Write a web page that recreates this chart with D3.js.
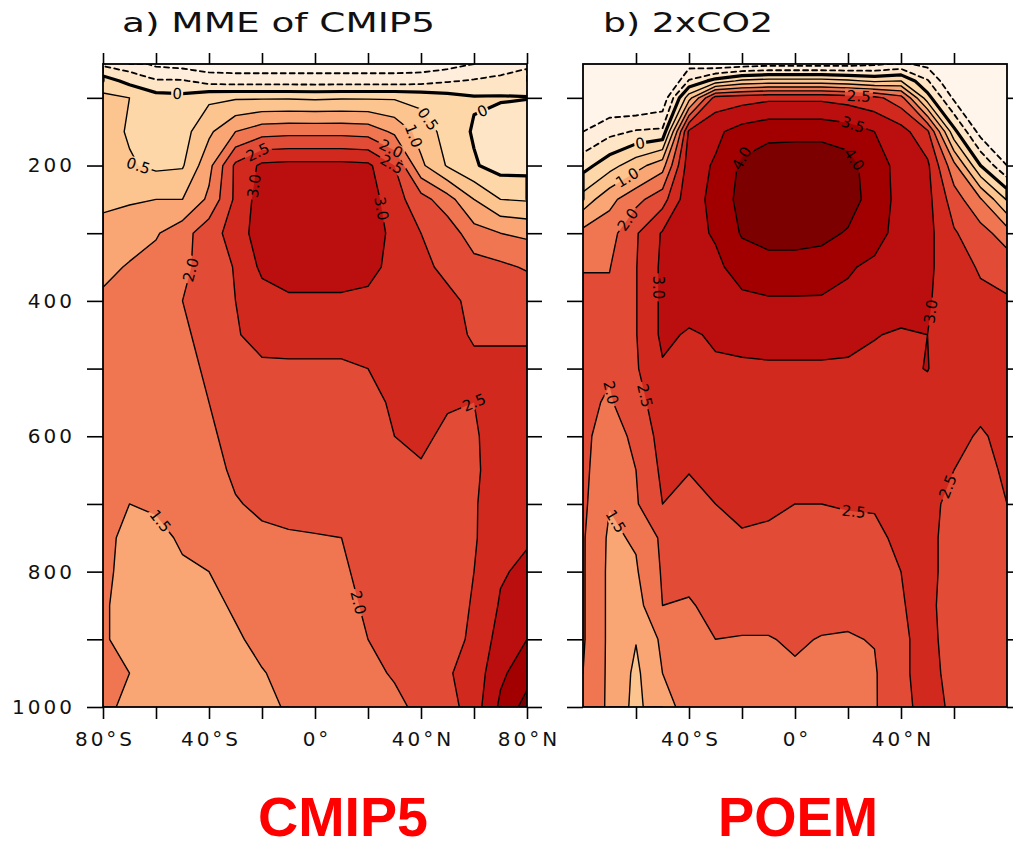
<!DOCTYPE html>
<html>
<head>
<meta charset="utf-8">
<script src="https://cdn.jsdelivr.net/npm/d3@7"></script>
<style>
  body { margin: 0; background: #fff; }
  svg text { font-family: "DejaVu Sans", sans-serif; }
</style>
</head>
<body>
<svg id="chart" width="1013" height="847"></svg>
<script>
// grid: latitude columns and pressure rows (hPa)
const lats = [-80, -70, -60, -50, -40, -30, -20, -10, 0, 10, 20, 30, 40, 50, 60, 70, 80];
const levels = [50, 75, 100, 150, 200, 250, 300, 350, 400, 450, 500, 550, 600, 650, 700, 750, 800, 850, 900, 950, 1000];

// contour levels (K) and the fill of each band (below first, between, above last)
const thresholds = [-1.0, -0.5, 0, 0.5, 1.0, 1.5, 2.0, 2.5, 3.0, 3.5, 4.0];
const bandColors = ["#fff5eb", "#feeedb", "#fee5c6", "#fdd7a7", "#fcc48e", "#f9a674",
  "#f07652", "#e24c36", "#d2291f", "#ba0f0e", "#a20000", "#7d0000"];

// a) MME of CMIP5 -- one row per pressure level, lat -80..80
const cmip5Rows = [
  [-0.6, -0.8, -1.1, -1.2, -1.3, -1.3, -1.3, -1.3, -1.3, -1.3, -1.3, -1.3, -1.3, -1.2, -1.0, -0.8, -0.6],
  [0.25, -0.15, -0.45, -0.45, -0.7, -0.75, -0.75, -0.75, -0.75, -0.75, -0.75, -0.75, -0.7, -0.55, -0.45, -0.35, -0.25],
  [0.6, 0.5, 0.2, 0.15, 0.4, 0.45, 0.45, 0.45, 0.42, 0.45, 0.45, 0.45, 0.35, 0.2, 0.05, 0.05, 0.02],
  [0.7, 0.45, 0.25, 0.3, 0.9, 1.5, 1.8, 1.85, 1.85, 1.85, 1.8, 1.4, 0.8, 0.3, -0.05, -0.3, -0.4],
  [0.6, 0.55, 0.4, 0.45, 1.35, 2.6, 3.1, 3.15, 3.15, 3.15, 3.1, 2.5, 1.1, 0.45, 0.05, -0.2, -0.2],
  [0.9, 0.95, 1.0, 1.0, 1.6, 2.6, 3.25, 3.3, 3.3, 3.3, 3.25, 2.7, 2.2, 1.7, 1.0, 0.5, 0.45],
  [1.15, 1.25, 1.45, 1.8, 2.3, 2.7, 3.3, 3.35, 3.35, 3.35, 3.3, 2.85, 2.5, 2.3, 1.7, 1.5, 1.4],
  [1.35, 1.55, 1.7, 1.95, 2.1, 2.55, 3.1, 3.3, 3.3, 3.3, 3.2, 2.8, 2.6, 2.4, 2.2, 2.1, 1.95],
  [1.6, 1.65, 1.75, 2.0, 2.2, 2.5, 2.8, 2.9, 2.9, 2.9, 2.85, 2.8, 2.7, 2.6, 2.4, 2.4, 2.35],
  [1.65, 1.7, 1.8, 1.95, 2.1, 2.45, 2.7, 2.75, 2.75, 2.75, 2.75, 2.75, 2.7, 2.65, 2.45, 2.45, 2.45],
  [1.7, 1.75, 1.8, 1.9, 2.05, 2.2, 2.4, 2.4, 2.4, 2.4, 2.5, 2.65, 2.75, 2.7, 2.6, 2.6, 2.6],
  [1.75, 1.8, 1.85, 1.9, 2.0, 2.15, 2.25, 2.3, 2.3, 2.3, 2.3, 2.6, 2.7, 2.55, 2.5, 2.7, 2.75],
  [1.75, 1.75, 1.8, 1.85, 1.95, 2.1, 2.2, 2.3, 2.3, 2.3, 2.3, 2.5, 2.6, 2.4, 2.45, 2.7, 2.8],
  [1.7, 1.65, 1.7, 1.8, 1.9, 2.05, 2.15, 2.25, 2.3, 2.3, 2.3, 2.4, 2.45, 2.35, 2.4, 2.8, 2.85],
  [1.6, 1.5, 1.55, 1.7, 1.85, 1.98, 2.05, 2.15, 2.2, 2.2, 2.3, 2.35, 2.35, 2.35, 2.45, 2.8, 2.95],
  [1.6, 1.4, 1.4, 1.55, 1.7, 1.85, 1.95, 1.95, 1.97, 2.0, 2.15, 2.25, 2.3, 2.3, 2.45, 2.85, 2.95],
  [1.6, 1.35, 1.35, 1.45, 1.5, 1.65, 1.8, 1.85, 1.85, 1.95, 2.1, 2.2, 2.25, 2.3, 2.5, 2.95, 3.1],
  [1.55, 1.35, 1.3, 1.35, 1.4, 1.55, 1.7, 1.8, 1.85, 1.9, 2.05, 2.15, 2.2, 2.25, 2.55, 3.05, 3.25],
  [1.55, 1.35, 1.3, 1.3, 1.35, 1.45, 1.6, 1.75, 1.85, 1.9, 2.0, 2.1, 2.15, 2.3, 2.6, 3.2, 3.5],
  [1.5, 1.5, 1.3, 1.3, 1.3, 1.4, 1.48, 1.6, 1.75, 1.85, 1.95, 2.02, 2.1, 2.45, 2.7, 3.4, 3.8],
  [1.55, 1.45, 1.3, 1.3, 1.3, 1.35, 1.45, 1.52, 1.7, 1.8, 1.9, 1.95, 2.05, 2.3, 2.75, 3.6, 4.2]
];

// b) 2xCO2 (POEM) -- one column per latitude, pressure 50..1000
const poemCols = [
  [-2.2, -2.0, -1.7, -1.0, -0.2, 0.7, 1.65, 1.98, 2.1, 2.1, 2.1, 2.1, 2.1, 2.1, 2.1, 2.05, 2.05, 2.05, 2.05, 2.0, 1.95],
  [-2.2, -2.0, -1.5, -0.65, 0.3, 1.35, 1.8, 1.98, 2.1, 2.1, 2.05, 1.95, 1.8, 1.7, 1.52, 1.42, 1.4, 1.4, 1.4, 1.4, 1.4],
  [-2.3, -2.1, -1.6, -0.45, 0.8, 1.85, 2.45, 2.48, 2.48, 2.48, 2.45, 2.3, 2.1, 2.0, 1.95, 1.55, 1.45, 1.3, 1.02, 0.9, 0.85],
  [-2.2, -2.0, -1.4, -0.4, 1.3, 2.3, 3.05, 3.1, 3.1, 3.1, 2.95, 2.8, 2.7, 2.6, 2.5, 2.1, 2.05, 2.0, 1.6, 1.5, 1.4],
  [-1.2, -0.45, 0.8, 3.1, 3.3, 3.35, 3.35, 3.3, 3.2, 2.95, 2.85, 2.75, 2.65, 2.52, 2.35, 2.25, 2.15, 1.95, 1.8, 1.7, 1.6],
  [-1.4, 0.2, 2.7, 3.4, 3.55, 3.6, 3.55, 3.4, 3.3, 3.05, 2.95, 2.8, 2.7, 2.6, 2.5, 2.4, 2.3, 2.15, 2.0, 1.85, 1.75],
  [-1.3, 0.6, 2.8, 3.7, 4.1, 4.2, 4.05, 3.7, 3.4, 3.2, 2.9, 2.8, 2.7, 2.6, 2.55, 2.48, 2.3, 2.15, 1.98, 1.85, 1.8],
  [-1.2, 0.7, 2.9, 3.85, 4.3, 4.4, 4.2, 3.8, 3.45, 3.15, 2.95, 2.85, 2.75, 2.65, 2.55, 2.45, 2.3, 2.15, 1.98, 1.85, 1.8],
  [-1.2, 0.7, 2.9, 3.85, 4.35, 4.45, 4.2, 3.8, 3.45, 3.15, 2.95, 2.85, 2.75, 2.6, 2.5, 2.4, 2.3, 2.2, 2.05, 1.95, 1.9],
  [-1.2, 0.7, 2.9, 3.85, 4.35, 4.45, 4.15, 3.75, 3.45, 3.15, 2.95, 2.85, 2.75, 2.6, 2.5, 2.4, 2.3, 2.15, 1.98, 1.9, 1.85],
  [-1.2, 0.6, 2.8, 3.75, 4.2, 4.25, 3.95, 3.55, 3.4, 3.1, 2.95, 2.85, 2.75, 2.65, 2.52, 2.42, 2.3, 2.1, 1.97, 1.9, 1.85],
  [-1.1, 0.4, 2.65, 3.5, 3.7, 3.75, 3.7, 3.4, 3.3, 3.02, 2.9, 2.8, 2.7, 2.6, 2.52, 2.45, 2.35, 2.2, 2.02, 1.95, 1.95],
  [-0.9, 0.5, 2.2, 3.2, 3.35, 3.35, 3.3, 3.25, 3.2, 2.95, 2.9, 2.8, 2.7, 2.65, 2.6, 2.55, 2.5, 2.48, 2.45, 2.45, 2.42],
  [-1.15, -0.45, 0.2, 2.6, 3.1, 3.15, 3.15, 3.1, 3.05, 3.0, 3.02, 2.8, 2.7, 2.65, 2.6, 2.6, 2.6, 2.6, 2.6, 2.6, 2.6],
  [-2.0, -1.6, -1.1, 0.15, 1.65, 2.25, 2.55, 2.7, 2.75, 2.7, 2.65, 2.6, 2.55, 2.5, 2.4, 2.35, 2.35, 2.3, 2.35, 2.4, 2.45],
  [-2.2, -2.0, -1.7, -1.2, 0.0, 1.55, 2.2, 2.45, 2.6, 2.65, 2.6, 2.55, 2.48, 2.4, 2.35, 2.35, 2.35, 2.35, 2.35, 2.35, 2.35],
  [-2.2, -2.1, -2.0, -1.6, -1.0, 0.45, 1.75, 2.3, 2.55, 2.6, 2.6, 2.6, 2.55, 2.55, 2.5, 2.45, 2.4, 2.35, 2.3, 2.3, 2.3]
];

// where the contour labels sit (value, approx lat, approx hPa)
const cmip5Labels = [
  [0, -52, 93], [0.5, -70, 210], [0, 63, 118], [0.5, 42, 133], [1.0, 36, 158],
  [2.0, 30, 165], [2.5, 31, 185], [2.5, -22, 177], [3.0, -25, 229], [3.0, 23, 265],
  [2.0, -47, 354], [2.5, 60, 542], [1.5, -58, 724], [2.0, 16, 846]
];
const poemLabels = [
  [0, -58, 177], [1.0, -62, 226], [2.0, -62, 283], [2.5, 24, 103], [3.5, 21, 150],
  [4.0, 23, 189], [4.0, -19, 192], [3.0, -55, 380], [3.0, 56, 418], [2.0, -70, 536],
  [2.5, -59, 542], [1.5, -67, 724], [2.5, 22, 716], [2.5, 58, 675]
];

const pressureTicks = [100, 200, 300, 400, 500, 600, 700, 800, 900, 1000];
const pressureLabels = [200, 400, 600, 800, 1000];
const latTicksA = [-80, -60, -40, -20, 0, 20, 40, 60, 80];
const latTicksB = [-60, -40, -20, 0, 20, 40, 60];
const latLabels = [-80, -40, 0, 40, 80];

const svg = d3.select("#chart");
const defs = svg.append("defs");
const plotTop = 64, plotBottom = 707, plotWidth = 424;
const y = d3.scaleLinear().domain([50, 1000]).range([plotTop, plotBottom]);
const latOfCol = d3.scaleLinear().domain([0, lats.length - 1]).range([lats[0], lats[lats.length - 1]]);
const presOfRow = d3.scaleLinear().domain(d3.range(levels.length)).range(levels);
const latFmt = d => d === 0 ? "0°" : d < 0 ? `${-d}°S` : `${d}°N`;
const valFmt = v => v === 0 ? "0" : d3.format(".1f")(v);

function drawPanel(cfg) {
  const nx = lats.length, ny = levels.length;
  const x = d3.scaleLinear().domain([-80, 80]).range([cfg.left, cfg.left + plotWidth]);
  const values = cfg.rows.flat();
  const polys = d3.contours().size([nx, ny]).thresholds(thresholds)(values);
  const clamp = (a, lo, hi) => Math.max(lo, Math.min(hi, a));
  const proj = ([u, v]) => [x(latOfCol(clamp(u - 0.5, 0, nx - 1))), y(presOfRow(clamp(v - 0.5, 0, ny - 1)))];
  const H = plotBottom - plotTop;

  const clipId = "clip-" + cfg.id;
  defs.append("clipPath").attr("id", clipId)
    .append("rect").attr("x", cfg.left).attr("y", plotTop).attr("width", plotWidth).attr("height", H);

  const g = svg.append("g").attr("clip-path", `url(#${clipId})`);
  g.append("rect").attr("x", cfg.left).attr("y", plotTop).attr("width", plotWidth).attr("height", H)
    .attr("fill", bandColors[0]);

  // filled bands
  polys.forEach((mp, k) => {
    const d = mp.coordinates.map(poly => poly.map(ring =>
      "M" + ring.map(p => proj(p).join(",")).join("L") + "Z").join("")).join("");
    g.append("path").attr("d", d).attr("fill", bandColors[k + 1]);
  });

  // contour lines, without the parts that run along the frame
  const onBorder = (a, b) => (a[0] === 0 && b[0] === 0) || (a[0] === nx && b[0] === nx) ||
    (a[1] === 0 && b[1] === 0) || (a[1] === ny && b[1] === ny);
  const runsByLevel = polys.map(mp => {
    const runs = [];
    mp.coordinates.forEach(poly => poly.forEach(ring => {
      let cur = [];
      for (let i = 0; i < ring.length - 1; i++) {
        const a = ring[i], b = ring[i + 1];
        if (onBorder(a, b)) {
          if (cur.length > 1) runs.push(cur);
          cur = [];
        } else {
          if (!cur.length) cur.push(proj(a));
          cur.push(proj(b));
        }
      }
      if (cur.length > 1) runs.push(cur);
    }));
    return runs;
  });

  const maskId = "mask-" + cfg.id;
  const mask = defs.append("mask").attr("id", maskId).attr("maskUnits", "userSpaceOnUse")
    .attr("x", cfg.left - 5).attr("y", plotTop - 5).attr("width", plotWidth + 10).attr("height", H + 10);
  mask.append("rect").attr("x", cfg.left - 5).attr("y", plotTop - 5)
    .attr("width", plotWidth + 10).attr("height", H + 10).attr("fill", "#fff");

  const lines = g.append("g").attr("mask", `url(#${maskId})`).attr("fill", "none")
    .attr("stroke", "#000").attr("stroke-linejoin", "round").attr("stroke-linecap", "round");
  const line = d3.line();
  runsByLevel.forEach((runs, k) => {
    const t = thresholds[k];
    runs.forEach(run => {
      lines.append("path").attr("d", line(run))
        .attr("stroke-width", t === 0 ? 3.2 : t < 0 ? 1.8 : 1.4)
        .attr("stroke-dasharray", t < 0 ? "5,4" : null);
    });
  });

  // labels placed on the nearest point of their contour
  cfg.labels.forEach(([v, lat, p]) => {
    const k = thresholds.indexOf(v);
    const tx = x(lat), ty = y(p);
    let best = null;
    runsByLevel[k].forEach(run => {
      for (let i = 0; i < run.length - 1; i++) {
        const [ax, ay] = run[i], [bx, by] = run[i + 1];
        const dx = bx - ax, dy = by - ay, len2 = dx * dx + dy * dy || 1;
        const s = clamp(((tx - ax) * dx + (ty - ay) * dy) / len2, 0, 1);
        const px = ax + s * dx, py = ay + s * dy;
        const dist = (px - tx) ** 2 + (py - ty) ** 2;
        if (!best || dist < best.dist) best = { dist, px, py, dx, dy };
      }
    });
    if (!best) return;
    let ang = Math.atan2(best.dy, best.dx) * 180 / Math.PI;
    if (ang > 90) ang -= 180;
    if (ang <= -90) ang += 180;
    const label = valFmt(v);
    const w = label.length * 8 + 4;
    const tr = `translate(${best.px},${best.py}) rotate(${ang})`;
    mask.append("rect").attr("x", -w / 2).attr("y", -7).attr("width", w).attr("height", 14)
      .attr("transform", tr).attr("fill", "#000");
    g.append("text").attr("transform", tr).attr("text-anchor", "middle").attr("dy", "0.36em")
      .attr("font-size", 15).attr("fill", "#000").text(label);
  });

  // axes: ticks outward on all four sides
  const tickStyle = sel => {
    sel.select(".domain").remove();
    sel.selectAll(".tick line").attr("stroke", "#000").attr("stroke-width", 1.6);
    sel.selectAll("text").attr("font-family", "DejaVu Sans, sans-serif").attr("font-size", 20)
      .attr("letter-spacing", 3).attr("fill", "#111");
  };
  svg.append("g").attr("transform", `translate(${cfg.left},0)`)
    .call(d3.axisLeft(y).tickValues(pressureTicks).tickSize(16).tickPadding(12)
      .tickFormat(d => cfg.yLabels && pressureLabels.includes(d) ? d : ""))
    .call(tickStyle);
  svg.append("g").attr("transform", `translate(${cfg.left + plotWidth},0)`)
    .call(d3.axisRight(y).tickValues(pressureTicks).tickSize(15).tickFormat(""))
    .call(tickStyle);
  svg.append("g").attr("transform", `translate(0,${plotBottom})`)
    .call(d3.axisBottom(x).tickValues(cfg.latTicks).tickSize(12).tickPadding(13)
      .tickFormat(d => latLabels.includes(d) ? latFmt(d) : ""))
    .call(tickStyle)
    .call(s => s.selectAll("text").attr("dx", 1.5));
  svg.append("g").attr("transform", `translate(0,${plotTop})`)
    .call(d3.axisTop(x).tickValues(cfg.latTicks).tickSize(11).tickFormat(""))
    .call(tickStyle);

  svg.append("rect").attr("x", cfg.left).attr("y", plotTop).attr("width", plotWidth).attr("height", H)
    .attr("fill", "none").attr("stroke", "#000").attr("stroke-width", 1.8);

  svg.append("text").attr("x", cfg.titleX).attr("y", 32).attr("font-size", 26)
    .attr("textLength", cfg.titleLen).attr("lengthAdjust", "spacingAndGlyphs").attr("fill", "#111")
    .text(cfg.title);

  svg.append("text").attr("x", cfg.left + plotWidth / 2 + cfg.nameShift).attr("y", 836)
    .attr("text-anchor", "middle").attr("font-size", 55).attr("font-weight", 700)
    .style("font-family", "'Liberation Sans', Arial, sans-serif")
    .attr("textLength", cfg.nameLen).attr("lengthAdjust", "spacingAndGlyphs")
    .attr("fill", "#ff0000").text(cfg.name);
}

drawPanel({
  id: "a", left: 103, rows: cmip5Rows, labels: cmip5Labels, yLabels: true, latTicks: latTicksA,
  title: "a) MME of CMIP5", titleX: 122, titleLen: 313, name: "CMIP5", nameLen: 170, nameShift: 28
});
drawPanel({
  id: "b", left: 583, rows: d3.transpose(poemCols), labels: poemLabels, yLabels: false, latTicks: latTicksB,
  title: "b) 2xCO2", titleX: 603, titleLen: 170, name: "POEM", nameLen: 160, nameShift: 3
});
</script>
</body>
</html>
